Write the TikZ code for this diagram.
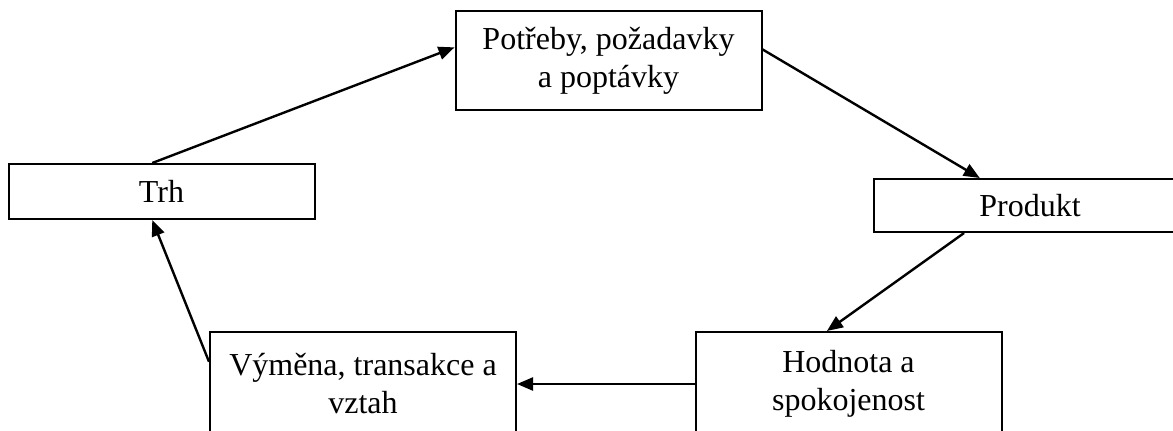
\documentclass[tikz,border=0pt]{standalone}
\usepackage{fontspec}
\setmainfont{Liberation Serif}
\usetikzlibrary{arrows.meta,calc}

\begin{document}
\begin{tikzpicture}[x=0.5pt,y=-0.5pt,>={Triangle[length=8pt,width=6.5pt]},
    font=\fontsize{16}{19}\selectfont,
    box/.style={draw,line width=1pt,align=center,inner sep=0pt,minimum width=153pt},
    link/.style={->,line width=1.2pt}]
  \useasboundingbox (0,0) rectangle (1173,430);
  \clip (0,0) rectangle (1173,430);
  \node[box,minimum height=49.5pt] (need) at (608.5,60.5) {Potřeby, požadavky\\a poptávky};
  \node[box,minimum height=27.5pt] (market) at (161.5,191.5) {Trh};
  \node[box,minimum width=156pt,minimum height=26.5pt] (product) at (1030,205.5) {Produkt};
  \node[box,minimum height=52pt] (value) at (848.5,384) {Hodnota a\\spokojenost};
  \node[box,minimum height=52pt] (exchange) at (363,384) {Výměna, transakce a\\vztah};
  \draw[link] ($(market.north west)!0.47!(market.north east)$) -- ($(need.north west)!0.37!(need.south west)$);
  \draw[link] ($(need.north east)!0.39!(need.south east)$) -- ($(product.north west)!0.34!(product.north east)$);
  \draw[link] ($(product.south west)!0.29!(product.south east)$) -- ($(value.north west)!0.43!(value.north east)$);
  \draw[link] (value.west) -- (exchange.east);
  \draw[link] ($(exchange.north west)!0.29!(exchange.south west)$) -- ($(market.south west)!0.47!(market.south east)$);
\end{tikzpicture}
\end{document}
